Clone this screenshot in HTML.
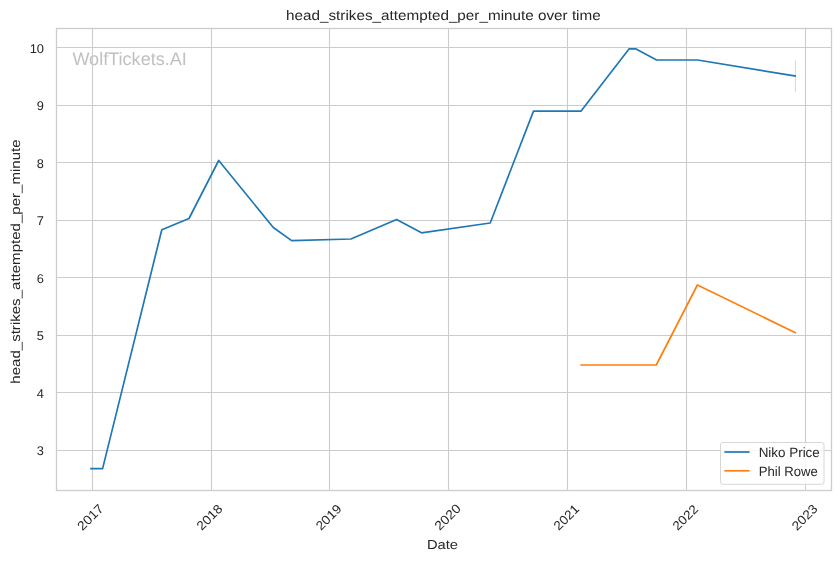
<!DOCTYPE html><html><head><meta charset="utf-8"><title>head_strikes_attempted_per_minute over time</title><style>html,body{margin:0;padding:0;background:#fff;width:840px;height:561px;overflow:hidden}svg{display:block;will-change:transform}text{font-family:"Liberation Sans",sans-serif;fill:#262626;text-rendering:geometricPrecision}</style></head><body>
<svg width="840" height="561" viewBox="0 0 840 561">
<rect width="840" height="561" fill="#fff"/>
<text x="72.40" y="65.00" font-size="18.09" style="fill:#c0c0c0" textLength="114.43" lengthAdjust="spacingAndGlyphs">WolfTickets.AI</text>
<path d="M92.5 28.5V490.5M211.5 28.5V490.5M329.5 28.5V490.5M448.5 28.5V490.5M567.5 28.5V490.5M686.5 28.5V490.5M805.5 28.5V490.5M56.5 47.5H831.5M56.5 105.5H831.5M56.5 162.5H831.5M56.5 220.5H831.5M56.5 277.5H831.5M56.5 335.5H831.5M56.5 392.5H831.5M56.5 450.5H831.5" stroke="#cccccc" stroke-width="1.1" fill="none"/>
<path d="M795.4 60.3V92.4" stroke="#1f77b4" stroke-opacity="0.25" stroke-width="1" fill="none"/>
<polyline points="91.00,468.60 102.60,468.60 161.80,229.80 189.00,218.50 218.70,160.50 273.30,227.50 291.60,240.60 350.90,239.00 396.60,219.50 421.50,232.80 490.20,223.00 533.50,111.10 581.10,111.10 629.20,48.80 635.60,48.80 656.60,60.00 697.60,60.00 795.20,76.00" fill="none" stroke="#1f77b4" stroke-width="1.7" stroke-linecap="square" stroke-linejoin="round"/>
<polyline points="581.20,365.00 656.30,365.00 697.40,285.00 795.20,332.60" fill="none" stroke="#ff7f0e" stroke-width="1.7" stroke-linecap="square" stroke-linejoin="round"/>
<rect x="56.5" y="28.5" width="775.0" height="462.0" fill="none" stroke="#cccccc" stroke-width="1.3"/>
<rect x="720.5" y="442.5" width="103.5" height="41.8" rx="2.5" ry="2.5" fill="#fff" fill-opacity="0.8" stroke="#d6d6d6" stroke-width="1"/>
<path d="M724.4 452H749.6" stroke="#1f77b4" stroke-width="1.7"/>
<path d="M724.4 470.8H749.6" stroke="#ff7f0e" stroke-width="1.7"/>
<text x="758.67" y="457.00" font-size="13.50" textLength="61.13" lengthAdjust="spacingAndGlyphs">Niko Price</text>
<text x="758.71" y="476.00" font-size="13.50" textLength="58.99" lengthAdjust="spacingAndGlyphs">Phil Rowe</text>
<text x="286.02" y="20.00" font-size="13.80" textLength="314.70" lengthAdjust="spacingAndGlyphs">head_strikes_attempted_per_minute over time</text>
<text x="426.92" y="549.00" font-size="13.00" textLength="31.03" lengthAdjust="spacingAndGlyphs">Date</text>
<text x="44.00" y="53.00" font-size="12.60" text-anchor="end" textLength="14.33" lengthAdjust="spacingAndGlyphs">10</text>
<text x="44.00" y="110.00" font-size="12.60" text-anchor="end" textLength="7.13" lengthAdjust="spacingAndGlyphs">9</text>
<text x="44.00" y="168.00" font-size="12.60" text-anchor="end" textLength="7.13" lengthAdjust="spacingAndGlyphs">8</text>
<text x="44.00" y="225.00" font-size="12.60" text-anchor="end" textLength="7.13" lengthAdjust="spacingAndGlyphs">7</text>
<text x="44.00" y="283.00" font-size="12.60" text-anchor="end" textLength="7.13" lengthAdjust="spacingAndGlyphs">6</text>
<text x="44.00" y="340.00" font-size="12.60" text-anchor="end" textLength="7.13" lengthAdjust="spacingAndGlyphs">5</text>
<text x="44.00" y="398.00" font-size="12.60" text-anchor="end" textLength="7.13" lengthAdjust="spacingAndGlyphs">4</text>
<text x="44.00" y="455.00" font-size="12.60" text-anchor="end" textLength="7.13" lengthAdjust="spacingAndGlyphs">3</text>
<text x="0" y="0" font-size="12.82" text-anchor="middle" textLength="30.81" lengthAdjust="spacingAndGlyphs" transform="translate(93.43,520.36) rotate(-45)">2017</text>
<text x="0" y="0" font-size="12.70" text-anchor="middle" textLength="30.25" lengthAdjust="spacingAndGlyphs" transform="translate(212.54,520.34) rotate(-45)">2018</text>
<text x="0" y="0" font-size="12.73" text-anchor="middle" textLength="30.40" lengthAdjust="spacingAndGlyphs" transform="translate(331.67,520.37) rotate(-45)">2019</text>
<text x="0" y="0" font-size="12.79" text-anchor="middle" textLength="30.65" lengthAdjust="spacingAndGlyphs" transform="translate(450.70,520.24) rotate(-45)">2020</text>
<text x="0" y="0" font-size="12.69" text-anchor="middle" textLength="30.18" lengthAdjust="spacingAndGlyphs" transform="translate(569.52,520.39) rotate(-45)">2021</text>
<text x="0" y="0" font-size="12.61" text-anchor="middle" textLength="29.83" lengthAdjust="spacingAndGlyphs" transform="translate(688.38,520.53) rotate(-45)">2022</text>
<text x="0" y="0" font-size="12.75" text-anchor="middle" textLength="30.47" lengthAdjust="spacingAndGlyphs" transform="translate(807.73,520.37) rotate(-45)">2023</text>
<text x="0" y="0" font-size="13.14" transform="translate(20.25,383.67) rotate(-90)" textLength="244.25" lengthAdjust="spacingAndGlyphs">head_strikes_attempted_per_minute</text>
</svg></body></html>
